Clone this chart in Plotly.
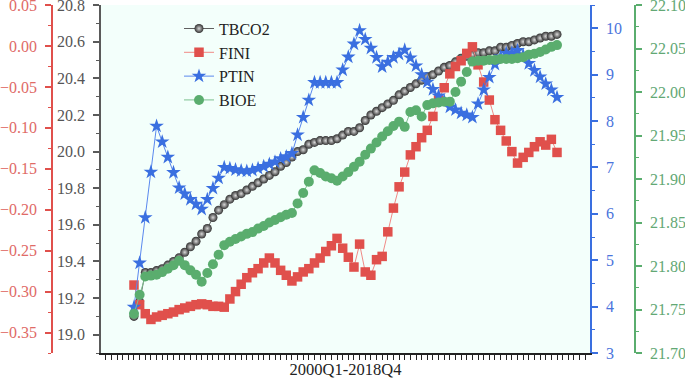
import plotly.graph_objects as go

quarters = [f"{y}Q{q}" for y in range(2000, 2019) for q in range(1, 5)]
idx = list(range(len(quarters)))

TBCO2 = [19.10, 19.18, 19.34, 19.34, 19.35, 19.36, 19.38, 19.40, 19.42, 19.45,
         19.48, 19.51, 19.55, 19.58, 19.64, 19.68, 19.71, 19.74, 19.76, 19.77,
         19.79, 19.81, 19.83, 19.85, 19.87, 19.89, 19.92, 19.94, 19.97, 20.00,
         20.01, 20.04, 20.05, 20.06, 20.06, 20.06, 20.07, 20.09, 20.11, 20.11,
         20.13, 20.17, 20.20, 20.22, 20.24, 20.26, 20.28, 20.31, 20.33, 20.35,
         20.37, 20.39, 20.41, 20.42, 20.44, 20.46, 20.47, 20.49, 20.51, 20.52,
         20.53, 20.54, 20.54, 20.55, 20.55, 20.57, 20.57, 20.58, 20.59, 20.60,
         20.60, 20.61, 20.62, 20.63, 20.63, 20.64]

FINI = [-0.292, -0.316, -0.327, -0.334, -0.331, -0.329, -0.327, -0.325, -0.322, -0.320,
        -0.318, -0.316, -0.315, -0.316, -0.318, -0.318, -0.319, -0.309, -0.300, -0.291,
        -0.283, -0.277, -0.272, -0.265, -0.259, -0.265, -0.274, -0.280, -0.287, -0.282,
        -0.276, -0.272, -0.265, -0.259, -0.251, -0.244, -0.235, -0.247, -0.258, -0.270,
        -0.242, -0.276, -0.280, -0.261, -0.257, -0.227, -0.198, -0.172, -0.154, -0.133,
        -0.123, -0.112, -0.103, -0.086, -0.066, -0.051, -0.034, -0.025, -0.018, -0.009,
        -0.001, -0.023, -0.044, -0.066, -0.090, -0.103, -0.116, -0.129, -0.143, -0.136,
        -0.130, -0.123, -0.117, -0.121, -0.114, -0.130]

PTIN = [3.99, 4.94, 5.92, 6.90, 7.89, 7.55, 7.22, 6.89, 6.56, 6.43,
        6.31, 6.21, 6.10, 6.31, 6.55, 6.77, 7.00, 6.98, 6.95, 6.93,
        6.92, 6.94, 6.98, 7.02, 7.07, 7.12, 7.19, 7.23, 7.30, 7.70,
        8.08, 8.45, 8.83, 8.83, 8.83, 8.83, 8.83, 9.10, 9.38, 9.66,
        9.95, 9.76, 9.57, 9.37, 9.17, 9.27, 9.37, 9.44, 9.53, 9.36,
        9.19, 9.00, 8.84, 8.68, 8.54, 8.43, 8.30, 8.24, 8.17, 8.13,
        8.08, 8.37, 8.67, 8.94, 9.22, 9.38, 9.46, 9.47, 9.52, 9.42,
        9.24, 9.09, 8.95, 8.80, 8.67, 8.51]

BIOE = [21.745, 21.767, 21.788, 21.789, 21.790, 21.793, 21.797, 21.801, 21.806, 21.801,
        21.795, 21.790, 21.782, 21.792, 21.802, 21.813, 21.824, 21.828, 21.831, 21.834,
        21.837, 21.839, 21.843, 21.846, 21.850, 21.853, 21.856, 21.859, 21.861, 21.872,
        21.884, 21.897, 21.910, 21.907, 21.903, 21.901, 21.898, 21.903, 21.908, 21.914,
        21.920, 21.928, 21.935, 21.942, 21.949, 21.955, 21.961, 21.966, 21.960, 21.977,
        21.979, 21.972, 21.985, 21.987, 21.988, 21.989, 21.989, 22.000, 22.012, 22.023,
        22.035, 22.036, 22.036, 22.037, 22.037, 22.038, 22.038, 22.038, 22.039, 22.040,
        22.043, 22.044, 22.046, 22.049, 22.052, 22.054]

W, H = 685, 381
FONT = "Liberation Serif"
RED, BLUE, GREEN, GRAY = "#e0504c", "#3a6fe0", "#5aad6e", "#5a5a5a"

fig = go.Figure()
fig.add_trace(go.Scatter(
    x=idx, y=TBCO2, name="TBCO2", mode="lines+markers", yaxis="y",
    line=dict(color="#606060", width=1),
    marker=dict(symbol="circle", size=9, color="#303030",
                gradient=dict(type="radial", color="#d8d8d8"))))
fig.add_trace(go.Scatter(
    x=idx, y=FINI, name="FINI", mode="lines+markers", yaxis="y2",
    line=dict(color="#f08a86", width=1),
    marker=dict(symbol="square", size=9.5, color=RED)))
fig.add_trace(go.Scatter(
    x=idx, y=PTIN, name="PTIN", mode="lines+markers", yaxis="y3",
    line=dict(color="#5a88ee", width=1),
    marker=dict(symbol="star", size=11, color=BLUE)))
fig.add_trace(go.Scatter(
    x=idx, y=BIOE, name="BIOE", mode="lines+markers", yaxis="y4",
    line=dict(color="#7cc08e", width=1),
    marker=dict(symbol="circle", size=10, color=GREEN)))

x0, x1 = 101 / W, 590 / W

def yax(color, labcolor, rng, dtick, mdtick, fmt, **kw):
    d = dict(range=rng, dtick=dtick, tickformat=fmt, showgrid=False, zeroline=False,
             showline=True, linecolor=color, linewidth=1.5,
             ticks="outside", ticklen=6, tickwidth=1.5, tickcolor=color,
             minor=dict(dtick=mdtick, ticks="outside", ticklen=3, tickcolor=color, tickwidth=1.2),
             tickfont=dict(family=FONT, size=16, color=labcolor),
             ticklabelstandoff=5, ticklabeloverflow="allow", automargin=False)
    d.update(kw)
    return d

fig.update_layout(
    width=W, height=H,
    font=dict(family=FONT, size=16, color="#222"),
    margin=dict(l=0, r=0, t=5, b=28),
    paper_bgcolor="white", plot_bgcolor="#f3fffb",
    showlegend=True,
    legend=dict(x=179 / W, y=0.981, xanchor="left", yanchor="top",
                bgcolor="rgba(0,0,0,0)", font=dict(family=FONT, size=16, color="#222"),
                tracegroupgap=0),
    xaxis=dict(domain=[x0, x1], range=[-5.85, 80.85], dtick=1, tick0=0,
               showgrid=False, zeroline=False, showline=True, linecolor="#222", linewidth=1.5,
               ticks="outside", ticklen=5, tickcolor="#222", tickwidth=1,
               showticklabels=False, automargin=False,
               title=dict(text="2000Q1-2018Q4", font=dict(family=FONT, size=16.5, color="#222"),
                          standoff=5)),
    yaxis=yax(GRAY, "#555555", [18.9, 20.8005], 0.2, 0.1, ".1f", side="left", anchor="x"),
    yaxis2=yax(RED, "#e06a66", [-0.375, 0.0501], 0.05, 0.025, ".2f",
               side="left", anchor="free", overlaying="y", position=52 / W),
    yaxis3=yax(BLUE, "#4a74dc", [3, 10.5], 1, 0.5, "d",
               side="right", anchor="x", overlaying="y"),
    yaxis4=yax(GREEN, "#62a874", [21.70, 22.1001], 0.05, 0.025, ".2f",
               side="right", anchor="free", overlaying="y", position=635 / W),
)

fig.write_html("out.html", config={"displayModeBar": False},
               post_script="document.body.style.margin='0';document.body.style.padding='0';")
